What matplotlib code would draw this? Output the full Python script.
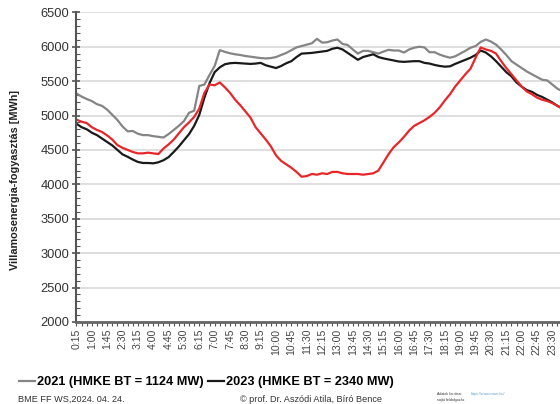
import matplotlib
matplotlib.use("Agg")
import matplotlib.pyplot as plt
from matplotlib.ticker import MultipleLocator

plt.rcParams['font.family'] = ['Liberation Sans', 'DejaVu Sans']

# quarter-hour values, 0:15 ... 24:00 (96 points), MWh
y2021 = [5320, 5275, 5240, 5210, 5165, 5140, 5085, 5010, 4935, 4840,
         4770, 4775, 4735, 4715, 4715, 4700, 4690, 4680, 4730, 4790,
         4850, 4920, 5040, 5070, 5430, 5450, 5590, 5720, 5950, 5925,
         5905, 5890, 5880, 5865, 5855, 5845, 5835, 5830, 5835, 5850,
         5880, 5910, 5950, 5990, 6010, 6030, 6050, 6115, 6060, 6065,
         6090, 6105, 6040, 6025, 5960, 5900, 5940, 5940, 5920, 5900,
         5930, 5955, 5945, 5945, 5915, 5960, 5985, 6000, 5990, 5920,
         5920, 5885, 5860, 5840, 5860, 5900, 5940, 5985, 6010, 6070,
         6105, 6075, 6030, 5960, 5880, 5790, 5740, 5690, 5640, 5600,
         5560, 5520, 5510, 5450, 5390, 5350]

y2023 = [4880, 4830, 4800, 4750, 4715, 4665, 4615, 4565, 4500, 4435,
         4400, 4360, 4325, 4310, 4310, 4305, 4320, 4350, 4395, 4470,
         4550, 4640, 4730, 4850, 5010, 5260, 5470, 5630, 5700, 5745,
         5760, 5765, 5760, 5755, 5750, 5755, 5765, 5730, 5710, 5690,
         5720, 5760, 5790, 5850, 5900, 5905, 5910, 5920, 5930, 5940,
         5970, 5985, 5960, 5910, 5860, 5810, 5850, 5870, 5890, 5850,
         5830, 5815, 5800, 5785, 5780, 5785, 5790, 5790, 5765, 5755,
         5735, 5720, 5710, 5715, 5750, 5780, 5810, 5840, 5880, 5945,
         5915, 5860, 5790, 5710, 5630, 5570, 5480, 5420, 5370, 5345,
         5300, 5270, 5230, 5190, 5140, 5100]

y_red = [4940, 4910, 4890, 4830, 4790, 4760, 4710, 4650, 4570, 4530,
         4500, 4470, 4450, 4450, 4460, 4450, 4440, 4520, 4580, 4650,
         4740, 4830, 4900, 4980, 5100, 5330, 5450, 5440, 5480, 5410,
         5330, 5230, 5150, 5060, 4970, 4830, 4740, 4650, 4550, 4420,
         4340, 4290, 4240, 4180, 4110, 4120, 4150, 4140, 4160, 4150,
         4180, 4180, 4160, 4150, 4150, 4150, 4140, 4150, 4160, 4200,
         4320, 4440, 4540, 4610, 4690, 4780, 4850, 4890, 4930, 4980,
         5040, 5120, 5220, 5310, 5420, 5510, 5600, 5680, 5840, 5990,
         5960, 5940, 5900, 5790, 5690, 5600, 5510, 5420, 5350, 5310,
         5260, 5230, 5210, 5180, 5140, 5100]

tick_labels = ["0:15", "1:00", "1:45", "2:30", "3:15", "4:00", "4:45", "5:30",
               "6:15", "7:00", "7:45", "8:30", "9:15", "10:00", "10:45", "11:30",
               "12:15", "13:00", "13:45", "14:30", "15:15", "16:00", "16:45", "17:30",
               "18:15", "19:00", "19:45", "20:30", "21:15", "22:00", "22:45", "23:30"]

label_2021 = "2021 (HMKE BT = 1124 MW)"
label_2023 = "2023 (HMKE BT = 2340 MW)"

x = list(range(len(y2021)))

fig = plt.figure(figsize=(5.6, 4.04), dpi=100)
ax = fig.add_axes([0.1366, 0.2032, 0.868, 0.7663])

# gridlines first so the curves sit on top
ax.yaxis.grid(True, color='#d9d9d9', lw=1.2)
ax.set_axisbelow(True)

l21, = ax.plot(x, y2021, color='#858585', lw=1.6, label=label_2021)
l23, = ax.plot(x, y2023, color='#1a1a1a', lw=1.6, label=label_2023)
ax.plot(x, y_red, color='#e8262a', lw=1.6)

ax.set_ylim(2000, 6500)
ax.set_xlim(0, len(x) - 1)
ax.yaxis.set_major_locator(MultipleLocator(500))
ax.yaxis.set_minor_locator(MultipleLocator(100))
ax.set_xticks(x[::3])
ax.set_xticklabels(tick_labels, rotation=90, fontsize=7.6, color='#444444')
ax.set_xticks(x, minor=True)

ax.tick_params(axis='y', which='major', direction='inout', length=6, width=1.2,
               colors='#555555', labelcolor='#333333', labelsize=9.3, pad=2)
ax.tick_params(axis='y', which='minor', direction='in', length=3, width=0.8, colors='#555555')
ax.tick_params(axis='x', which='both', direction='out', length=3, width=0.8,
               colors='#555555', pad=2)
ax.tick_params(axis='x', labelcolor='#444444')

for side in ['top', 'right']:
    ax.spines[side].set_visible(False)
ax.spines['left'].set_color('#555555')
ax.spines['left'].set_linewidth(1.5)
ax.spines['bottom'].set_color('#666666')
ax.spines['bottom'].set_linewidth(2)

fig.text(0.027, 0.554, "Villamosenergia-fogyasztás [MWh]", rotation=90,
         ha='center', va='center', fontsize=7.8, fontweight='bold', color='#222222')

fig.legend(handles=[l21, l23], loc='lower left', bbox_to_anchor=(0.02, 0.02),
           ncol=2, frameon=False, handlelength=1.3,
           handletextpad=0.15, columnspacing=0.3, borderaxespad=0.2,
           prop={'weight': 'bold', 'size': 9.2})

fig.text(0.032, 0.006, "BME FF WS,2024. 04. 24.", fontsize=6.6, color='#333333')
fig.text(0.555, 0.006, "© prof. Dr. Aszódi Atila, Bíró Bence", fontsize=6.6,
         color='#333333', ha='center')
fig.text(0.78, 0.022, "Adatok forrása:", fontsize=2.6, color='#333333')
fig.text(0.84, 0.022, "https://www.mavir.hu/", fontsize=2.6, color='#5aa0c8')
fig.text(0.78, 0.008, "saját feldolgozás", fontsize=2.6, color='#333333')

fig.savefig("out.png", dpi=100)
